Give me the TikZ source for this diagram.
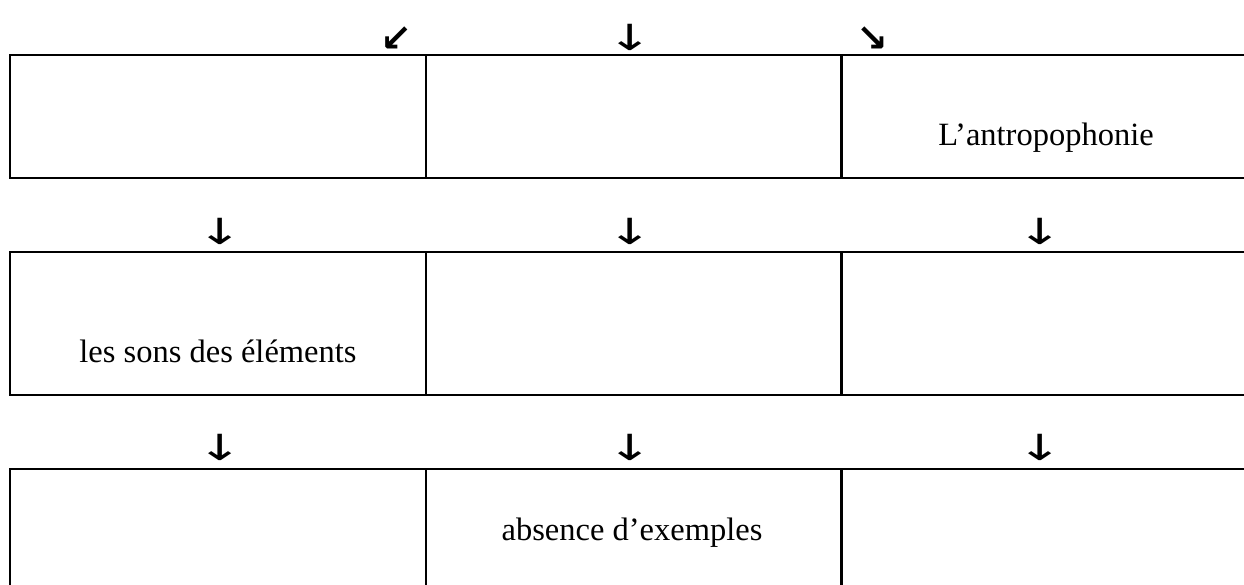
\documentclass[tikz,border=0pt]{standalone}
\usepackage{fontspec}
\setmainfont{Liberation Serif}
\newfontfamily\arrowfont{DejaVu Sans}
\usepackage{tikz}
\usetikzlibrary{positioning}
\newcommand{\widearrow}[1]{\scalebox{1.5}[1]{#1}}

\begin{document}
\begin{tikzpicture}[
    x=1pt, y=-1pt,
    cell/.style={draw, line width=2pt, anchor=north west, inner sep=0pt,
                 minimum width=416pt},
    rowa/.style={cell, minimum height=123pt},
    rowb/.style={cell, minimum height=143pt},
    celltext/.style={anchor=base, inner sep=0pt, font=\fontsize{32.5}{38}\selectfont},
    arr/.style={inner sep=0pt, font=\arrowfont\fontsize{36}{40}\selectfont},
    diag/.style={inner sep=0pt, font=\arrowfont\bfseries\fontsize{38}{42}\selectfont}
]
    \useasboundingbox (0,0) rectangle (1244,585);

    % top arrows
    \node[diag] (a1) at (396,39) {↙};
    \node[arr] (a2) at (630,37) {\widearrow{↓}};
    \node[diag] (a3) at (872,39) {↘};

    % first row
    \node[rowa] (c11) at (9,54) {};
    \node[rowa] (c12) at (425,54) {};
    \node[rowa] (c13) at (840,54) {};
    \node[celltext] (t13) at (1046,146) {L’antropophonie};

    % arrows between rows
    \node[arr] (b1) at (220,231) {\widearrow{↓}};
    \node[arr] (b2) at (630,231) {\widearrow{↓}};
    \node[arr] (b3) at (1040,231) {\widearrow{↓}};

    % second row
    \node[rowb] (c21) at (9,251) {};
    \node[rowb] (c22) at (425,251) {};
    \node[rowb] (c23) at (840,251) {};
    \node[celltext] (t21) at (218,362) {les sons des éléments};

    \node[arr] (d1) at (220,447) {\widearrow{↓}};
    \node[arr] (d2) at (630,447) {\widearrow{↓}};
    \node[arr] (d3) at (1040,447) {\widearrow{↓}};

    % third row
    \node[rowb] (c31) at (9,468) {};
    \node[rowb] (c32) at (425,468) {};
    \node[rowb] (c33) at (840,468) {};
    \node[celltext] (t32) at (632,540) {absence d’exemples};
\end{tikzpicture}
\end{document}
